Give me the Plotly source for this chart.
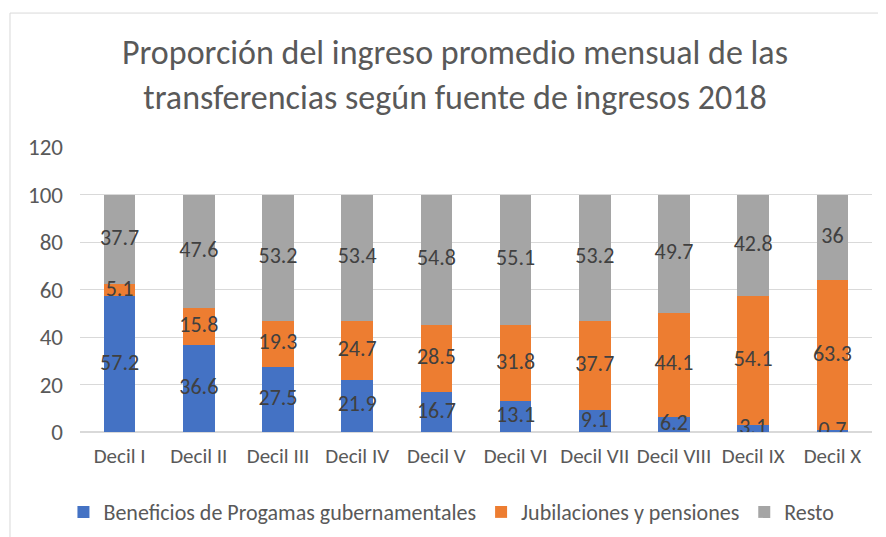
import plotly.graph_objects as go

# datos
deciles = ['Decil I', 'Decil II', 'Decil III', 'Decil IV', 'Decil V',
           'Decil VI', 'Decil VII', 'Decil VIII', 'Decil IX', 'Decil X']
beneficios = [57.2, 36.6, 27.5, 21.9, 16.7, 13.1, 9.1, 6.2, 3.1, 0.7]
jubilaciones = [5.1, 15.8, 19.3, 24.7, 28.5, 31.8, 37.7, 44.1, 54.1, 63.3]
resto = [37.7, 47.6, 53.2, 53.4, 54.8, 55.1, 53.2, 49.7, 42.8, 36]

series = [
    ('Beneficios de Progamas gubernamentales', beneficios, '#4472C4'),
    ('Jubilaciones y pensiones', jubilaciones, '#ED7D31'),
    ('Resto', resto, '#A5A5A5'),
]

font = 'Calibri, Carlito, Lato, sans-serif'
fig = go.Figure()

for name, vals, color in series:
    fig.add_trace(go.Bar(x=deciles, y=vals, name=name, marker_color=color,
                         marker_line_width=0))

# etiquetas centradas en cada segmento
base = [0] * len(deciles)
for name, vals, color in series:
    mids = [b + v / 2 for b, v in zip(base, vals)]
    fig.add_trace(go.Scatter(x=deciles, y=mids, text=[f'{v:g}' for v in vals],
                             mode='text', showlegend=False, hoverinfo='skip',
                             textfont=dict(size=22, color='#404040', family=font)))
    base = [b + v for b, v in zip(base, vals)]

fig.update_layout(
    barmode='stack', bargap=0.6,
    width=886, height=537,
    margin=dict(l=72, r=22, t=139, b=113),
    paper_bgcolor='white', plot_bgcolor='white',
    font=dict(family=font, color='#595959', size=22),
    title=dict(text='Proporción del ingreso promedio mensual de las<br>transferencias según fuente de ingresos 2018',
               x=0.5045, xanchor='center', y=0.895, yanchor='top',
               font=dict(size=34, color='#595959', family=font)),
    legend=dict(orientation='h', x=0.469, xanchor='center', y=-0.281, yanchor='middle',
                font=dict(size=22, color='#595959'), traceorder='normal'),
    shapes=[dict(type='rect', xref='paper', yref='paper',
                 x0=-0.0884, x1=1.05, y0=-0.6, y1=1.47,
                 line=dict(color='#D9D9D9', width=1))],
)
fig.update_yaxes(range=[0, 120], dtick=20, showgrid=True, gridcolor='#D9D9D9',
                 zeroline=True, zerolinecolor='#D9D9D9', ticks='',
                 ticklabelstandoff=16, tickfont=dict(size=23, color='#595959'))
fig.update_xaxes(showline=False, ticks='', tickangle=0, ticklabelstandoff=9,
                 tickfont=dict(size=21, color='#595959'))

fig.write_html('out.html')
